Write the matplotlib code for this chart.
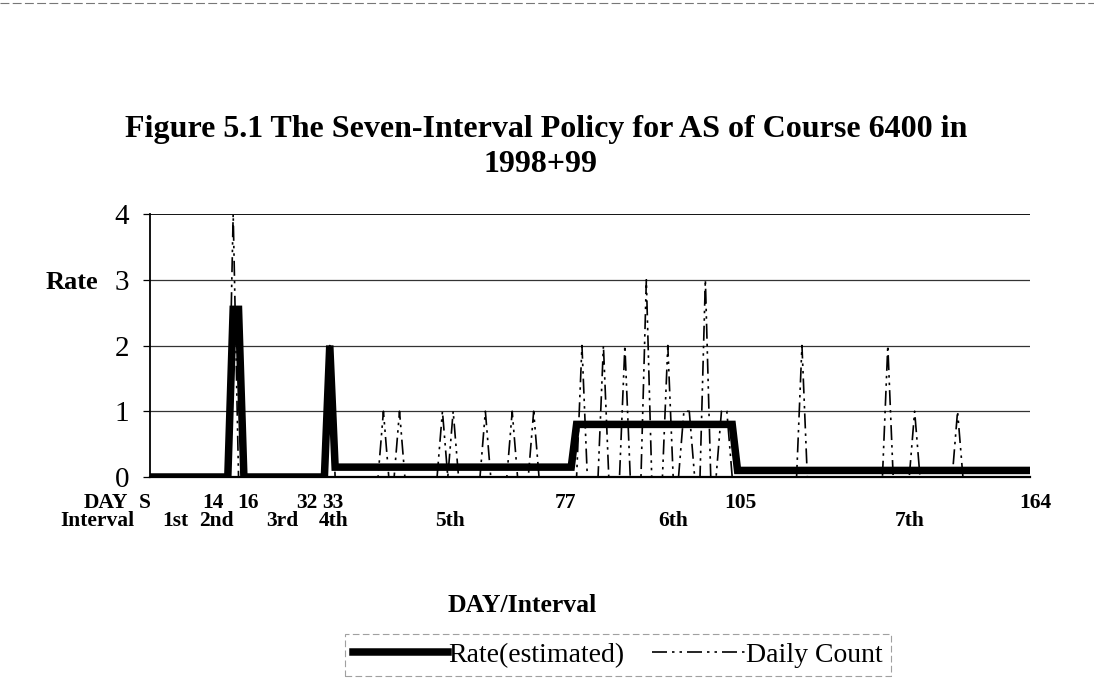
import numpy as np
import matplotlib
matplotlib.use("Agg")
import matplotlib.pyplot as plt
from matplotlib.lines import Line2D

plt.rcParams["font.family"] = ["Liberation Serif", "DejaVu Serif"]

# estimated rate per interval: first day of each step and its value
rate_start = [1, 16, 18, 34, 35, 80, 110]
rate_vals = [0, 2.55, 0, 2.0, 0.15, 0.8, 0.1]
last_day = 164

# daily counts (days with a non-zero count)
count_days = [16, 34, 44, 47, 55, 57, 63, 68, 72,
              81, 85, 89, 93, 97, 100, 101, 104, 107, 108,
              122, 138, 143, 151]
count_vals = [4, 2, 1, 1, 1, 1, 1, 1, 1,
              2, 2, 2, 3, 2, 1, 1, 3, 1, 1,
              2, 2, 1, 1]

day_labels = ["DAY", "S", "14", "16", "32", "33", "77", "105", "164"]
day_label_x = [-7.8, -0.4, 12.2, 18.8, 29.8, 34.6, 78.0, 110.5, 165.4]
int_labels = ["Interval", "1st", "2nd", "3rd", "4th", "5th", "6th", "7th"]
int_label_x = [-9.4, 5.3, 12.8, 25.1, 34.8, 56.4, 98.0, 142.1]

days = np.arange(1, last_day + 1)
lengths = np.diff(rate_start + [last_day + 1])
rate = np.repeat(rate_vals, lengths)
daily = np.zeros(last_day)
daily[np.array(count_days) - 1] = count_vals

fig = plt.figure(figsize=(10.94, 6.86), dpi=100)
ax = fig.add_axes([150 / 1094, 209 / 686, 880 / 1094, 263 / 686])

for g in [1, 2, 3]:
    ax.axhline(g, color="#333333", lw=0.9, zorder=1)
ax.axhline(4, color="black", lw=1.3, zorder=1)

dash = (0, (9, 3, 1.5, 3, 1.5, 3))
ax.plot(days, daily, color="black", lw=1.2, ls=dash, zorder=2, label="Daily Count")
ax.plot(days, rate, color="black", lw=5.4, solid_joinstyle="miter", zorder=3,
        label="Rate(estimated)")

ax.set_xlim(0.5, last_day + 0.5)
ax.set_ylim(0, 4)
ax.set_yticks([0, 1, 2, 3, 4])
ax.set_yticklabels(["0", "1", "2", "3", "4"], fontsize=21)
ax.tick_params(axis="y", direction="out", length=5, width=0.9, pad=10)
ax.set_xticks([])
for s in ["top", "right"]:
    ax.spines[s].set_visible(False)
ax.spines["left"].set_linewidth(1.3)
ax.spines["bottom"].set_linewidth(1.6)

ax.text(-0.059, 0.738, "Rate", transform=ax.transAxes, ha="right", va="center",
        fontsize=19, fontweight="bold")

tkw = dict(transform=ax.get_xaxis_transform(), ha="center", va="center",
           fontsize=15.5, fontweight="bold", clip_on=False)
for lab, x in zip(day_labels, day_label_x):
    ax.text(x, -0.097, lab, **tkw)
for lab, x in zip(int_labels, int_label_x):
    ax.text(x, -0.168, lab, **tkw)

fig.text(522 / 1094, 1 - 605 / 686, "DAY/Interval", ha="center", va="center",
         fontsize=18.5, fontweight="bold")
fig.text(546 / 1094, 1 - 130 / 686,
         "Figure 5.1 The Seven-Interval Policy for AS of Course 6400 in",
         ha="center", va="center", fontsize=23, fontweight="bold")
fig.text(540 / 1094, 1 - 165 / 686, "1998+99", ha="center", va="center",
         fontsize=23, fontweight="bold")

h, l = ax.get_legend_handles_labels()
leg = fig.legend(h[::-1], l[::-1], loc="center", ncol=2,
                 bbox_to_anchor=(618 / 1094, 1 - 655 / 686), fontsize=20,
                 handlelength=3.4, handletextpad=0.0, columnspacing=1.0,
                 fancybox=False, edgecolor="#888888", borderpad=0.3,
                 borderaxespad=0.0)
leg.get_frame().set_linestyle((0, (6, 3)))
leg.get_frame().set_linewidth(0.8)

fig.add_artist(Line2D([0, 1], [0.996, 0.996], color="#777777", lw=0.8,
                      ls=(0, (8, 3))))

fig.savefig("out.png", dpi=100)
